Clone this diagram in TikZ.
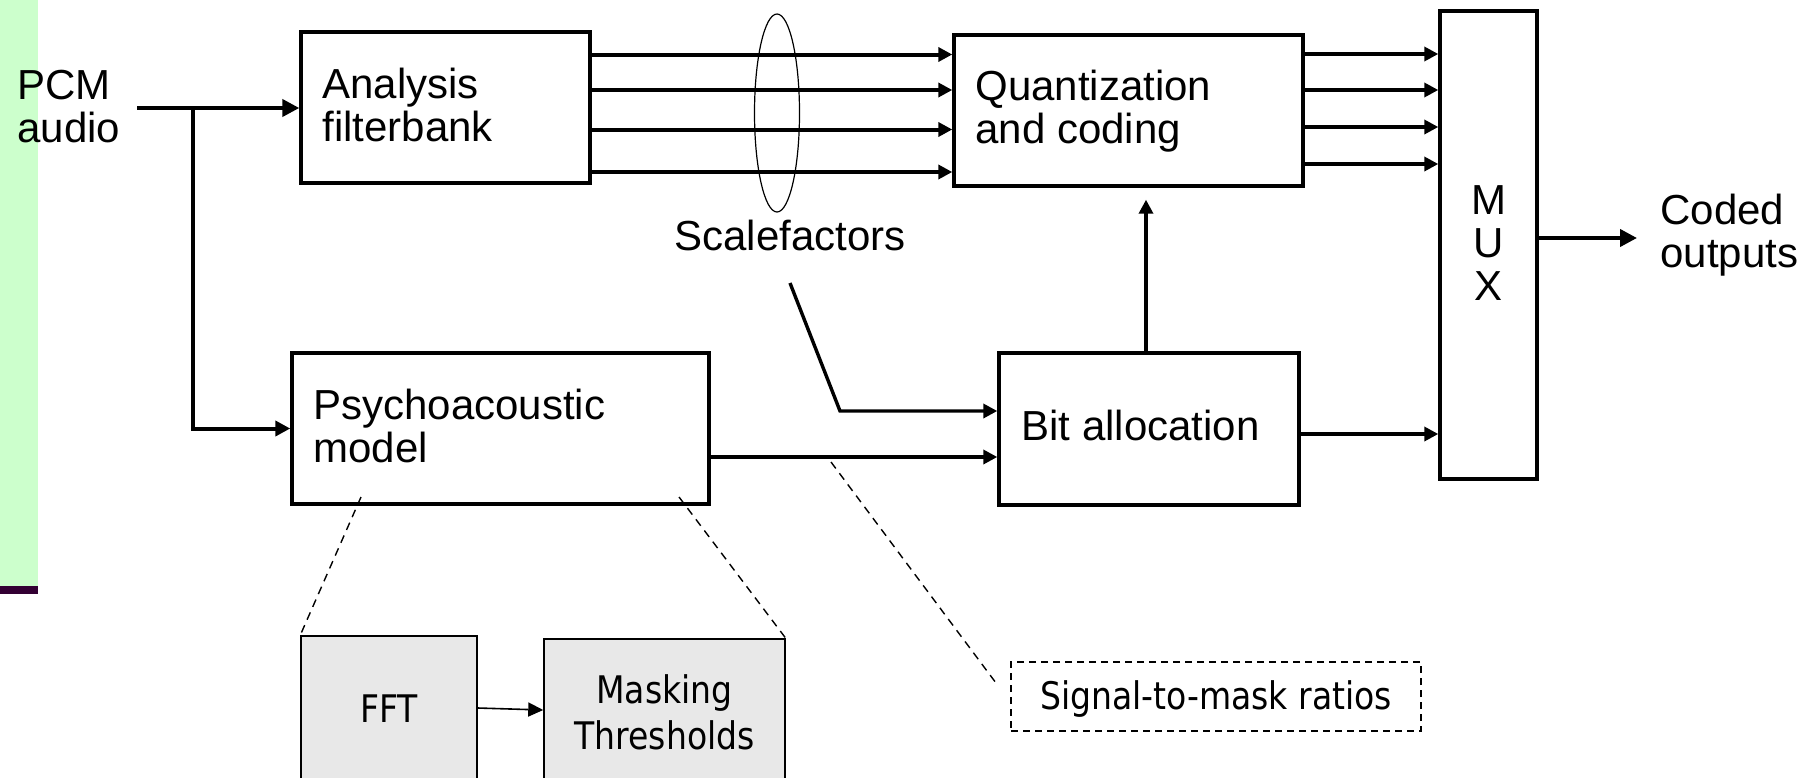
\documentclass[tikz,border=0pt]{standalone}
\usepackage{fontspec}
\setmainfont{Liberation Sans}
\newfontfamily\condfont[FakeStretch=0.87]{DejaVu Sans}
\usetikzlibrary{arrows.meta,shapes.geometric}
\definecolor{bargreen}{HTML}{CCFFCC}
\definecolor{barplum}{HTML}{330033}
\definecolor{panelgray}{HTML}{E8E8E8}

\begin{document}
\begin{tikzpicture}[x=0.5pt,y=-0.5pt,
  blk/.style={draw, line width=1.7pt, rectangle, inner sep=0pt},
  subblk/.style={draw, line width=0.75pt, fill=panelgray, rectangle, inner sep=0pt},
  lbl/.style={inner sep=0pt, font=\fontsize{21}{21.5}\selectfont, align=left},
  clbl/.style={inner sep=0pt, font=\condfont\fontsize{19}{23}\selectfont, align=center},
  flow/.style={line width=1.7pt, -{Triangle[length=7pt,width=7pt]}},
  bus/.style={line width=2pt, -{Triangle[length=7pt,width=7pt]}},
  heavy/.style={line width=2pt, -{Triangle[length=8.5pt,width=8.5pt]}},
  lead/.style={line width=0.7pt, dash pattern=on 4pt off 3pt},
]
\useasboundingbox (0,0) rectangle (1820,777);
\clip (0,0) rectangle (1820,777);

% side bar
\fill[bargreen] (0,0) rectangle (38,586);
\fill[barplum] (0,586) rectangle (38,594);

% main blocks
\node[blk, minimum width=144.5pt, minimum height=75.5pt] (ana) at (445.5,107.5) {};
\node[blk, minimum width=174.5pt, minimum height=75.5pt] (quant) at (1128.5,110.5) {};
\node[blk, minimum width=208.5pt, minimum height=75.5pt] (psy) at (500.5,428.5) {};
\node[blk, minimum width=150pt, minimum height=76pt] (bit) at (1149,429) {};
\node[blk, minimum width=48.5pt, minimum height=234pt] (mux) at (1488.5,245) {};

% detail of the psychoacoustic model
\node[subblk, minimum width=88pt, minimum height=82pt] (fft) at (389,718) {};
\node[subblk, minimum width=120.5pt, minimum height=80.5pt] (mask) at (664.5,719.5) {};
\node[draw, line width=1pt, dash pattern=on 3.5pt off 2.5pt, inner sep=0pt,
      minimum width=205pt, minimum height=34.5pt] (smr) at (1216,696.5) {};

% scalefactor grouping ring
\node[ellipse, draw, line width=0.6pt, inner sep=0pt,
      minimum width=22.5pt, minimum height=99pt] (ring) at (777,113) {};

% labels (multi-line labels are placed by the baseline of their last line)
\node[lbl, anchor=base west] (pcm) at (17,142) {PCM\\audio};
\node[lbl, anchor=base west] (anatxt) at (322,141) {Analysis\\filterbank};
\node[lbl, anchor=base west] (quanttxt) at (975,143) {Quantization\\and coding};
\node[lbl, anchor=base west] (psytxt) at (313,462) {Psychoacoustic\\model};
\node[lbl, anchor=base west] (bittxt) at (1021,440) {Bit allocation};
\node[lbl, anchor=base] (sf) at (790,250) {Scalefactors};
\node[lbl, anchor=base west] (coded) at (1660,267) {Coded\\outputs};
\node[lbl, align=center, anchor=base] (muxtxt) at (1488.5,300) {M\\U\\X};
\node[clbl, anchor=base] (ffttxt) at (389,722) {FFT};
\node[clbl, anchor=base] (masktxt) at (664.5,749) {Masking\\Thresholds};
\node[clbl, anchor=base] (smrtxt) at (1216,709) {Signal-to-mask ratios};

% input and its branch
\coordinate (src) at (137,108);
\coordinate (tap) at (193,108);
\draw[heavy] (src) -- (src -| ana.west);
\draw[line width=2pt, -{Triangle[length=7.5pt,width=7.5pt]}] (tap) |- (psy.west);

% subband signals
\foreach \y in {54.5,90,129.5,172}
  \draw[bus] (ana.east |- 0,\y) -- (quant.west |- 0,\y);
\foreach \y in {54,90,127,164}
  \draw[flow] (quant.east |- 0,\y) -- (mux.west |- 0,\y);

% bit allocation paths
\coordinate (sfa) at (790,283);
\coordinate (sfb) at (840,411);
\draw[flow] (sfa) -- (sfb) -- (bit.west |- sfb);
\draw[flow] (psy.east |- 0,457) -- (bit.west |- 0,457);
\draw[flow, shorten >=6pt] (bit.north -| 1146,0) -- (quant.south -| 1146,0);
\draw[flow] (bit.east |- 0,434) -- (mux.west |- 0,434);

% output
\coordinate (outtip) at (1637,238);
\draw[heavy] (mux.east |- outtip) -- (outtip);

% FFT to masking thresholds
\draw[line width=0.8pt, -{Triangle[length=7.5pt,width=7pt]}] (fft.east |- 0,708) -- (mask.west |- 0,710);

% dashed leaders
\coordinate (psyL) at (361,497);
\coordinate (psyR) at (679,497);
\coordinate (smrA) at (831,462);
\coordinate (smrB) at (996,683);
\draw[lead] (psyL) -- (fft.north west);
\draw[lead] (psyR) -- (mask.north east);
\draw[lead] (smrA) -- (smrB);
\end{tikzpicture}
\end{document}
